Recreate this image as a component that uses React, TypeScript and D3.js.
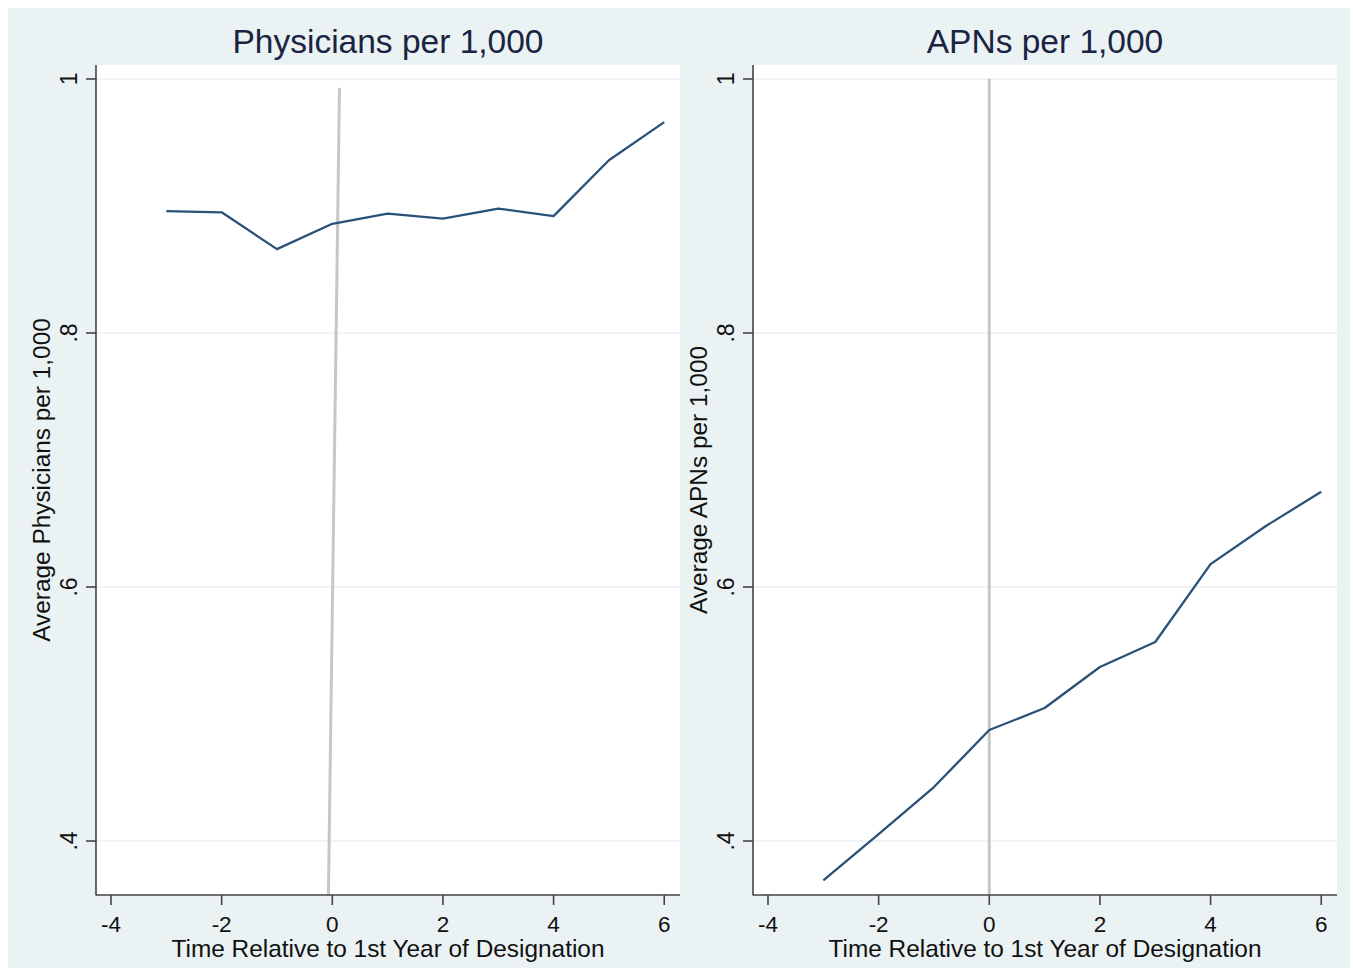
import React from "react";
import * as d3 from "d3";

const years = [-3, -2, -1, 0, 1, 2, 3, 4, 5, 6];
const physicians = [0.896, 0.895, 0.866, 0.886, 0.894, 0.89, 0.898, 0.892, 0.936, 0.966];
const apns = [0.369, 0.4055, 0.4425, 0.4874, 0.5047, 0.537, 0.5567, 0.618, 0.648, 0.675];
const xTicks = [-4, -2, 0, 2, 4, 6];
const yTicks = [0.4, 0.6, 0.8, 1];
const yTickLabels = [".4", ".6", ".8", "1"];
// reference (designation) lines: [x, y] endpoints in data units
const refLineLeft = [
  [0.13, 0.993],
  [-0.07, 0.3575],
];
const refLineRight = [
  [0, 1],
  [0, 0.3575],
];

const W = 1353;
const H = 972;
const FONT = "'Liberation Sans', Arial, sans-serif";

type PanelProps = {
  left: number;
  right: number;
  title: string;
  yTitle: string;
  values: number[];
  refLine: number[][];
};

const TOP = 65;
const BOTTOM = 895;

function Panel({ left, right, title, yTitle, values, refLine }: PanelProps) {
  const x = d3.scaleLinear().domain([-4.271, 6.285]).range([left, right]);
  const y = d3.scaleLinear().domain([0.3575, 1.011]).range([BOTTOM, TOP]);
  const line = d3
    .line<number>()
    .x((_, i) => x(years[i]))
    .y((d) => y(d));
  const ref = d3
    .line<number[]>()
    .x((d) => x(d[0]))
    .y((d) => y(d[1]));
  const cx = (left + right) / 2;
  const cy = (TOP + BOTTOM) / 2;
  return (
    <g>
      <rect x={left} y={TOP} width={right - left} height={BOTTOM - TOP} fill="#ffffff" />
      {yTicks.map((t) => (
        <line key={"g" + t} x1={left} x2={right} y1={y(t)} y2={y(t)} stroke="#eaf2f3" strokeWidth={1.5} />
      ))}
      <path d={ref(refLine) || ""} fill="none" stroke="#c6c6c6" strokeWidth={3} />
      <path d={line(values) || ""} fill="none" stroke="#2a5279" strokeWidth={2.3} strokeLinejoin="round" />
      {/* axes */}
      <line x1={left} x2={left} y1={TOP} y2={BOTTOM + 0.5} stroke="#444" strokeWidth={1.6} />
      <line x1={left} x2={right} y1={BOTTOM} y2={BOTTOM} stroke="#444" strokeWidth={1.6} />
      {yTicks.map((t, i) => (
        <g key={"y" + t}>
          <line x1={left - 10} x2={left} y1={y(t)} y2={y(t)} stroke="#444" strokeWidth={1.6} />
          <text
            transform={`translate(${left - 19},${y(t)}) rotate(-90)`}
            textAnchor="middle"
            fontFamily={FONT}
            fontSize={23}
            fill="#111"
          >
            {yTickLabels[i]}
          </text>
        </g>
      ))}
      {xTicks.map((t) => (
        <g key={"x" + t}>
          <line x1={x(t)} x2={x(t)} y1={BOTTOM} y2={BOTTOM + 10} stroke="#444" strokeWidth={1.6} />
          <text x={x(t)} y={932} textAnchor="middle" fontFamily={FONT} fontSize={22.5} fill="#111">
            {t}
          </text>
        </g>
      ))}
      <text x={cx} y={957} textAnchor="middle" fontFamily={FONT} fontSize={24.4} fill="#111">
        Time Relative to 1st Year of Designation
      </text>
      <text
        transform={`translate(${left - 46},${cy}) rotate(-90)`}
        textAnchor="middle"
        fontFamily={FONT}
        fontSize={24.4}
        fill="#111"
      >
        {yTitle}
      </text>
      <text x={cx} y={53} textAnchor="middle" fontFamily={FONT} fontSize={33.5} fill="#1a2442">
        {title}
      </text>
    </g>
  );
}

export default function App() {
  return (
    <svg
      width={W}
      height={H}
      viewBox={`0 0 ${W} ${H}`}
      style={{ position: "absolute", left: 0, top: 0, display: "block" }}
    >
      <rect x={0} y={0} width={W} height={H} fill="#ffffff" />
      <rect x={8} y={8} width={1342} height={960} fill="#eaf2f3" />
      <Panel
        left={96}
        right={680}
        title="Physicians per 1,000"
        yTitle="Average Physicians per 1,000"
        values={physicians}
        refLine={refLineLeft}
      />
      <Panel
        left={753}
        right={1337}
        title="APNs per 1,000"
        yTitle="Average APNs per 1,000"
        values={apns}
        refLine={refLineRight}
      />
    </svg>
  );
}
